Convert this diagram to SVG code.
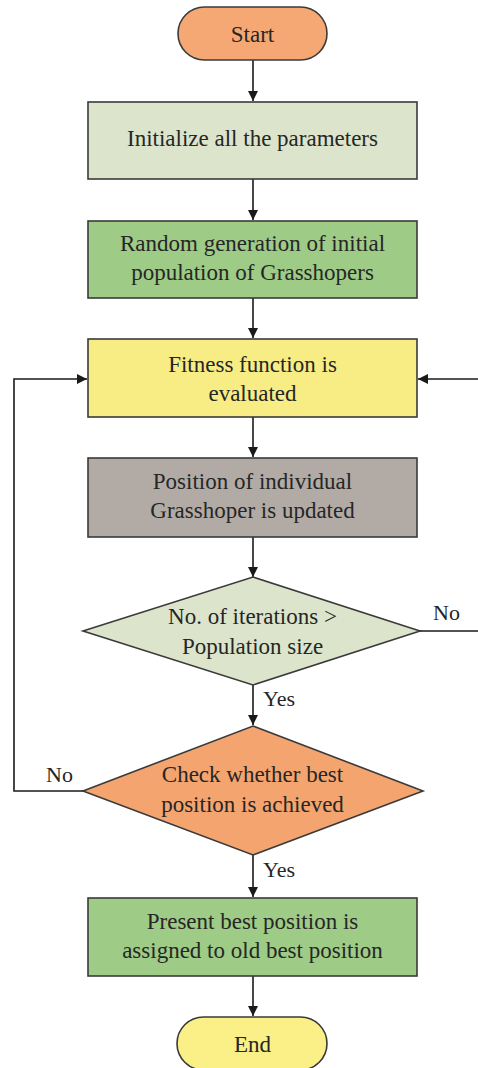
<svg xmlns="http://www.w3.org/2000/svg" width="478" height="1068" viewBox="0 0 478 1068">
<defs>
<marker id="arr" viewBox="0 0 10 10" refX="10" refY="5" markerWidth="10" markerHeight="10" markerUnits="userSpaceOnUse" orient="auto">
<path d="M0,0 L10,5 L0,10 z" fill="#1a1a1a"/>
</marker>
</defs>
<style>
.shape{stroke:#3a3a3a;stroke-width:1.6}
.t{font-size:23px;fill:#262626;text-anchor:middle}
.lbl{font-size:22px;fill:#262626}
.c{fill:none;stroke:#1a1a1a;stroke-width:1.6}
</style>
<rect width="478" height="1068" fill="#ffffff"/>
<g id="connectors" font-family="Liberation Serif, Times New Roman, serif">
<line class="c" x1="253" y1="60" x2="253" y2="101" marker-end="url(#arr)"/>
<line class="c" x1="253" y1="179" x2="253" y2="220" marker-end="url(#arr)"/>
<line class="c" x1="253" y1="298" x2="253" y2="338" marker-end="url(#arr)"/>
<line class="c" x1="253" y1="417" x2="253" y2="457" marker-end="url(#arr)"/>
<line class="c" x1="253" y1="537" x2="253" y2="577" marker-end="url(#arr)"/>
<line class="c" x1="253" y1="685" x2="253" y2="725" marker-end="url(#arr)"/>
<line class="c" x1="253" y1="855" x2="253" y2="897" marker-end="url(#arr)"/>
<line class="c" x1="253" y1="976" x2="253" y2="1016" marker-end="url(#arr)"/>
<line class="c" x1="420" y1="631" x2="478" y2="631"/>
<line class="c" x1="478" y1="379" x2="418" y2="379" marker-end="url(#arr)"/>
<polyline class="c" points="83,791 14,791 14,379 87,379" marker-end="url(#arr)"/>
<text class="lbl" x="433" y="620">No</text>
<text class="lbl" x="263" y="706">Yes</text>
<text class="lbl" x="46" y="782">No</text>
<text class="lbl" x="263" y="877">Yes</text>
</g>
<g font-family="Liberation Serif, Times New Roman, serif">
<g id="start">
<rect class="shape" x="178" y="7" width="149" height="53" rx="26.5" fill="#f5a873"/>
<text class="t" x="252.5" y="42">Start</text>
</g>
<g id="init">
<rect class="shape" x="88" y="102" width="329" height="77" fill="#dce5cb"/>
<text class="t" x="252.5" y="146">Initialize all the parameters</text>
</g>
<g id="random">
<rect class="shape" x="88" y="221" width="329" height="77" fill="#9ecb86"/>
<text class="t" x="252.5" y="251">Random generation of initial</text>
<text class="t" x="252.5" y="280">population of Grasshopers</text>
</g>
<g id="fitness">
<rect class="shape" x="88" y="339" width="329" height="78" fill="#f8ed85"/>
<text class="t" x="252.5" y="372">Fitness function is</text>
<text class="t" x="252.5" y="401">evaluated</text>
</g>
<g id="position">
<rect class="shape" x="88" y="458" width="329" height="79" fill="#b2aba5"/>
<text class="t" x="252.5" y="489">Position of individual</text>
<text class="t" x="252.5" y="518">Grasshoper is updated</text>
</g>
<g id="check-iter">
<polygon class="shape" points="253,577 420,631 253,685 83,631" fill="#dce5cb"/>
<text class="t" x="252.5" y="624">No. of iterations &gt;</text>
<text class="t" x="252.5" y="654">Population size</text>
</g>
<g id="check-best">
<polygon class="shape" points="253,726 423,791 253,855 83,791" fill="#f4a56f"/>
<text class="t" x="252.5" y="782">Check whether best</text>
<text class="t" x="252.5" y="812">position is achieved</text>
</g>
<g id="present">
<rect class="shape" x="88" y="898" width="329" height="78" fill="#9ecb86"/>
<text class="t" x="252.5" y="929">Present best position is</text>
<text class="t" x="252.5" y="958">assigned to old best position</text>
</g>
<g id="end">
<rect class="shape" x="177" y="1017" width="150" height="53" rx="26.5" fill="#fbef88"/>
<text class="t" x="252.5" y="1052">End</text>
</g>
</g>
</svg>
